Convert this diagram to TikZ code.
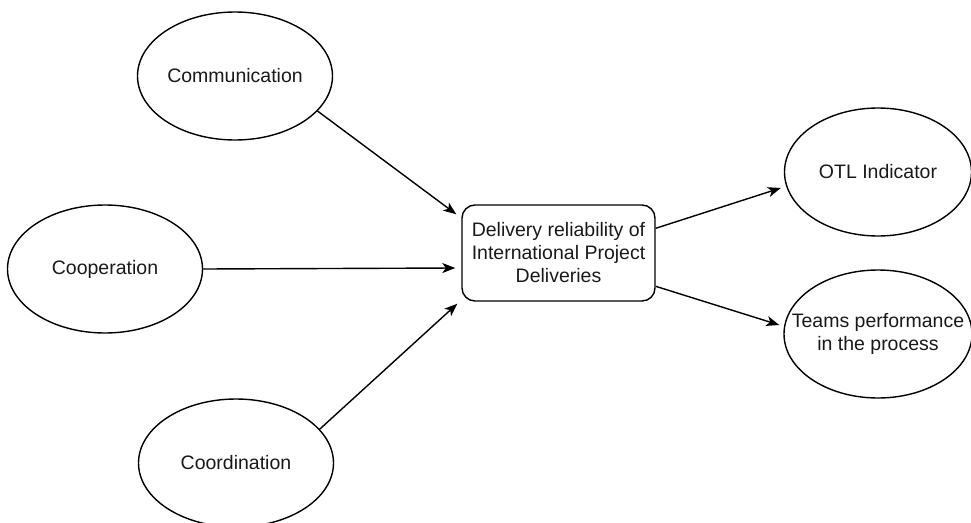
\documentclass[tikz,border=0pt]{standalone}
\usepackage{fontspec}
\setmainfont{Liberation Sans}
\usetikzlibrary{shapes.geometric,arrows.meta,calc}
\begin{document}
\begin{tikzpicture}[x=1pt,y=-1pt,
  txt/.style={font=\fontsize{19.5}{23}\selectfont, text=black!90, align=center},
  oval/.style={ellipse, draw=black, line width=1.4pt, inner sep=0pt, minimum width=195pt, minimum height=128pt},
  centerbox/.style={rectangle, rounded corners=13pt, draw=black, line width=1.4pt, minimum width=193pt, minimum height=96pt, inner sep=0pt, txt},
  conn/.style={line width=1.4pt, -{Stealth[length=13pt,width=10pt,inset=3.5pt]}}]
\useasboundingbox (0,0) rectangle (971,522);
\node[oval, label={[txt]center:Communication}] (comm) at (235,76) {};
\node[oval, label={[txt]center:Cooperation}] (coop) at (105,269) {};
\node[oval, label={[txt]center:Coordination}] (coord) at (236,463) {};
\node[oval, minimum width=187pt, label={[txt]center:OTL Indicator}] (otl) at (878,172) {};
\node[oval, minimum width=188pt, label={[txt]center:Teams performance\\in the process}] (teams) at (878,334) {};
\node[centerbox] (box) at (558.5,253) {Delivery reliability of\\International Project\\Deliveries};
\draw[conn] (comm.-23) -- ($(box.north west)+(-5,10)$);
\draw[conn] (coop.east) -- ($(box.west)+(-6,15)$);
\draw[conn] (coord.22) -- ($(box.south west)+(-4,2)$);
\draw[conn] ($(box.north east)+(0,24)$) -- ($(otl.west)+(-3,16)$);
\draw[conn] ($(box.north east)+(0,82)$) -- ($(teams.west)+(-4,-9)$);
\end{tikzpicture}
\end{document}
